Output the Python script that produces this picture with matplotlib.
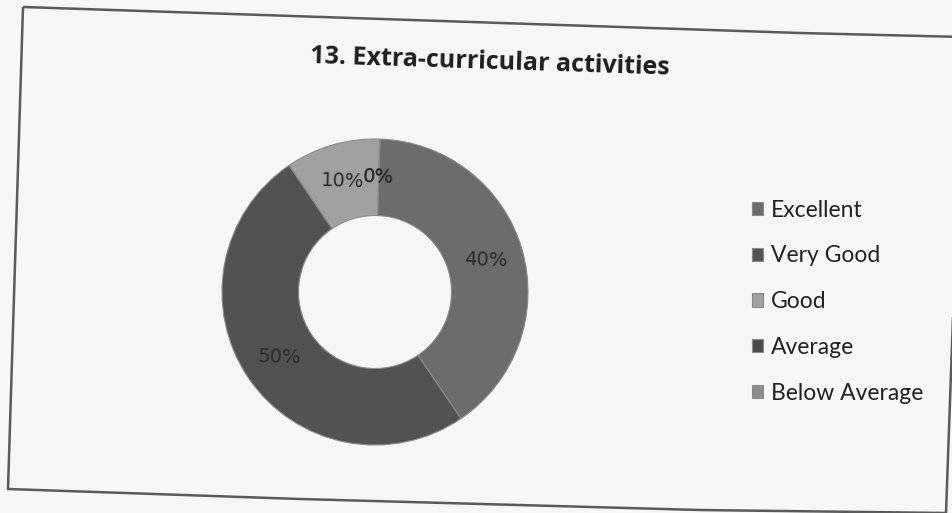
import matplotlib.pyplot as plt
import numpy as np
from matplotlib.patches import Polygon

# ── Datos ────────────────────────────────────────────────────
categories = ["Excellent", "Very Good", "Good", "Average", "Below Average"]
shares = [40, 50, 10, 0, 0]
pct_labels = ["40%", "50%", "10%", "0%", "0%"]
colors = ["#6c6c6c", "#525252", "#a0a0a0", "#4a4a4a", "#8c8c8c"]

W, H = 952, 513
TILT = -1.85  # el escaneo esta levemente girado

fig = plt.figure(figsize=(W / 100, H / 100), dpi=100)
fig.patch.set_facecolor("#f7f5f7")


def fxy(x, y):
    """pixel (origen arriba-izq) -> coords de figura"""
    return (x / W, 1 - y / H)


# marco del grafico (papel girado y algo curvado en el escaneo)
frame_px = [(23, 7), (800, 33), (963, 37), (946, 513),
            (700, 510), (300, 499), (8, 489)]
frame = Polygon([fxy(x, y) for x, y in frame_px], closed=True, fill=False,
                edgecolor="#5a5a5a", lw=1.8, joinstyle="round",
                transform=fig.transFigure)
fig.patches.append(frame)

fig.text(*fxy(490, 62), "13. Extra-curricular activities",
         ha="center", va="center", fontsize=18, fontweight="bold",
         family="Open Sans", color="#1e1e1e", rotation=TILT,
         rotation_mode="anchor")

# ── Dona ─────────────────────────────────────────────────────
cx, cy, R = 375, 292, 153
ax = fig.add_axes([(cx - R) / W, (H - cy - R) / H, 2 * R / W, 2 * R / H])
wedges, _ = ax.pie(shares, colors=colors, startangle=90 + TILT,
                   counterclock=False, radius=1.0,
                   wedgeprops=dict(width=0.5, edgecolor="#8a8a8a",
                                   linewidth=0.8))
for w, lab in zip(wedges, pct_labels):
    ang = np.radians((w.theta1 + w.theta2) / 2)
    ax.text(0.755 * np.cos(ang), 0.755 * np.sin(ang), lab, ha="center",
            va="center", fontsize=14, color="#2a2a2a", family="DejaVu Sans",
            rotation=TILT, rotation_mode="anchor")
ax.set_xlim(-1, 1)
ax.set_ylim(-1, 1)
ax.set_aspect("equal")
ax.axis("off")

# ── Leyenda ──────────────────────────────────────────────────
leg = fig.legend(wedges, categories, loc="upper left",
                 bbox_to_anchor=fxy(731, 179),
                 frameon=False, handlelength=0.5, handleheight=0.5,
                 handletextpad=0.35, labelspacing=1.08,
                 prop=dict(family="Lato", size=16.5))
for t in leg.get_texts():
    t.set_color("#222222")

fig.savefig("out.png", dpi=100, facecolor=fig.get_facecolor())
